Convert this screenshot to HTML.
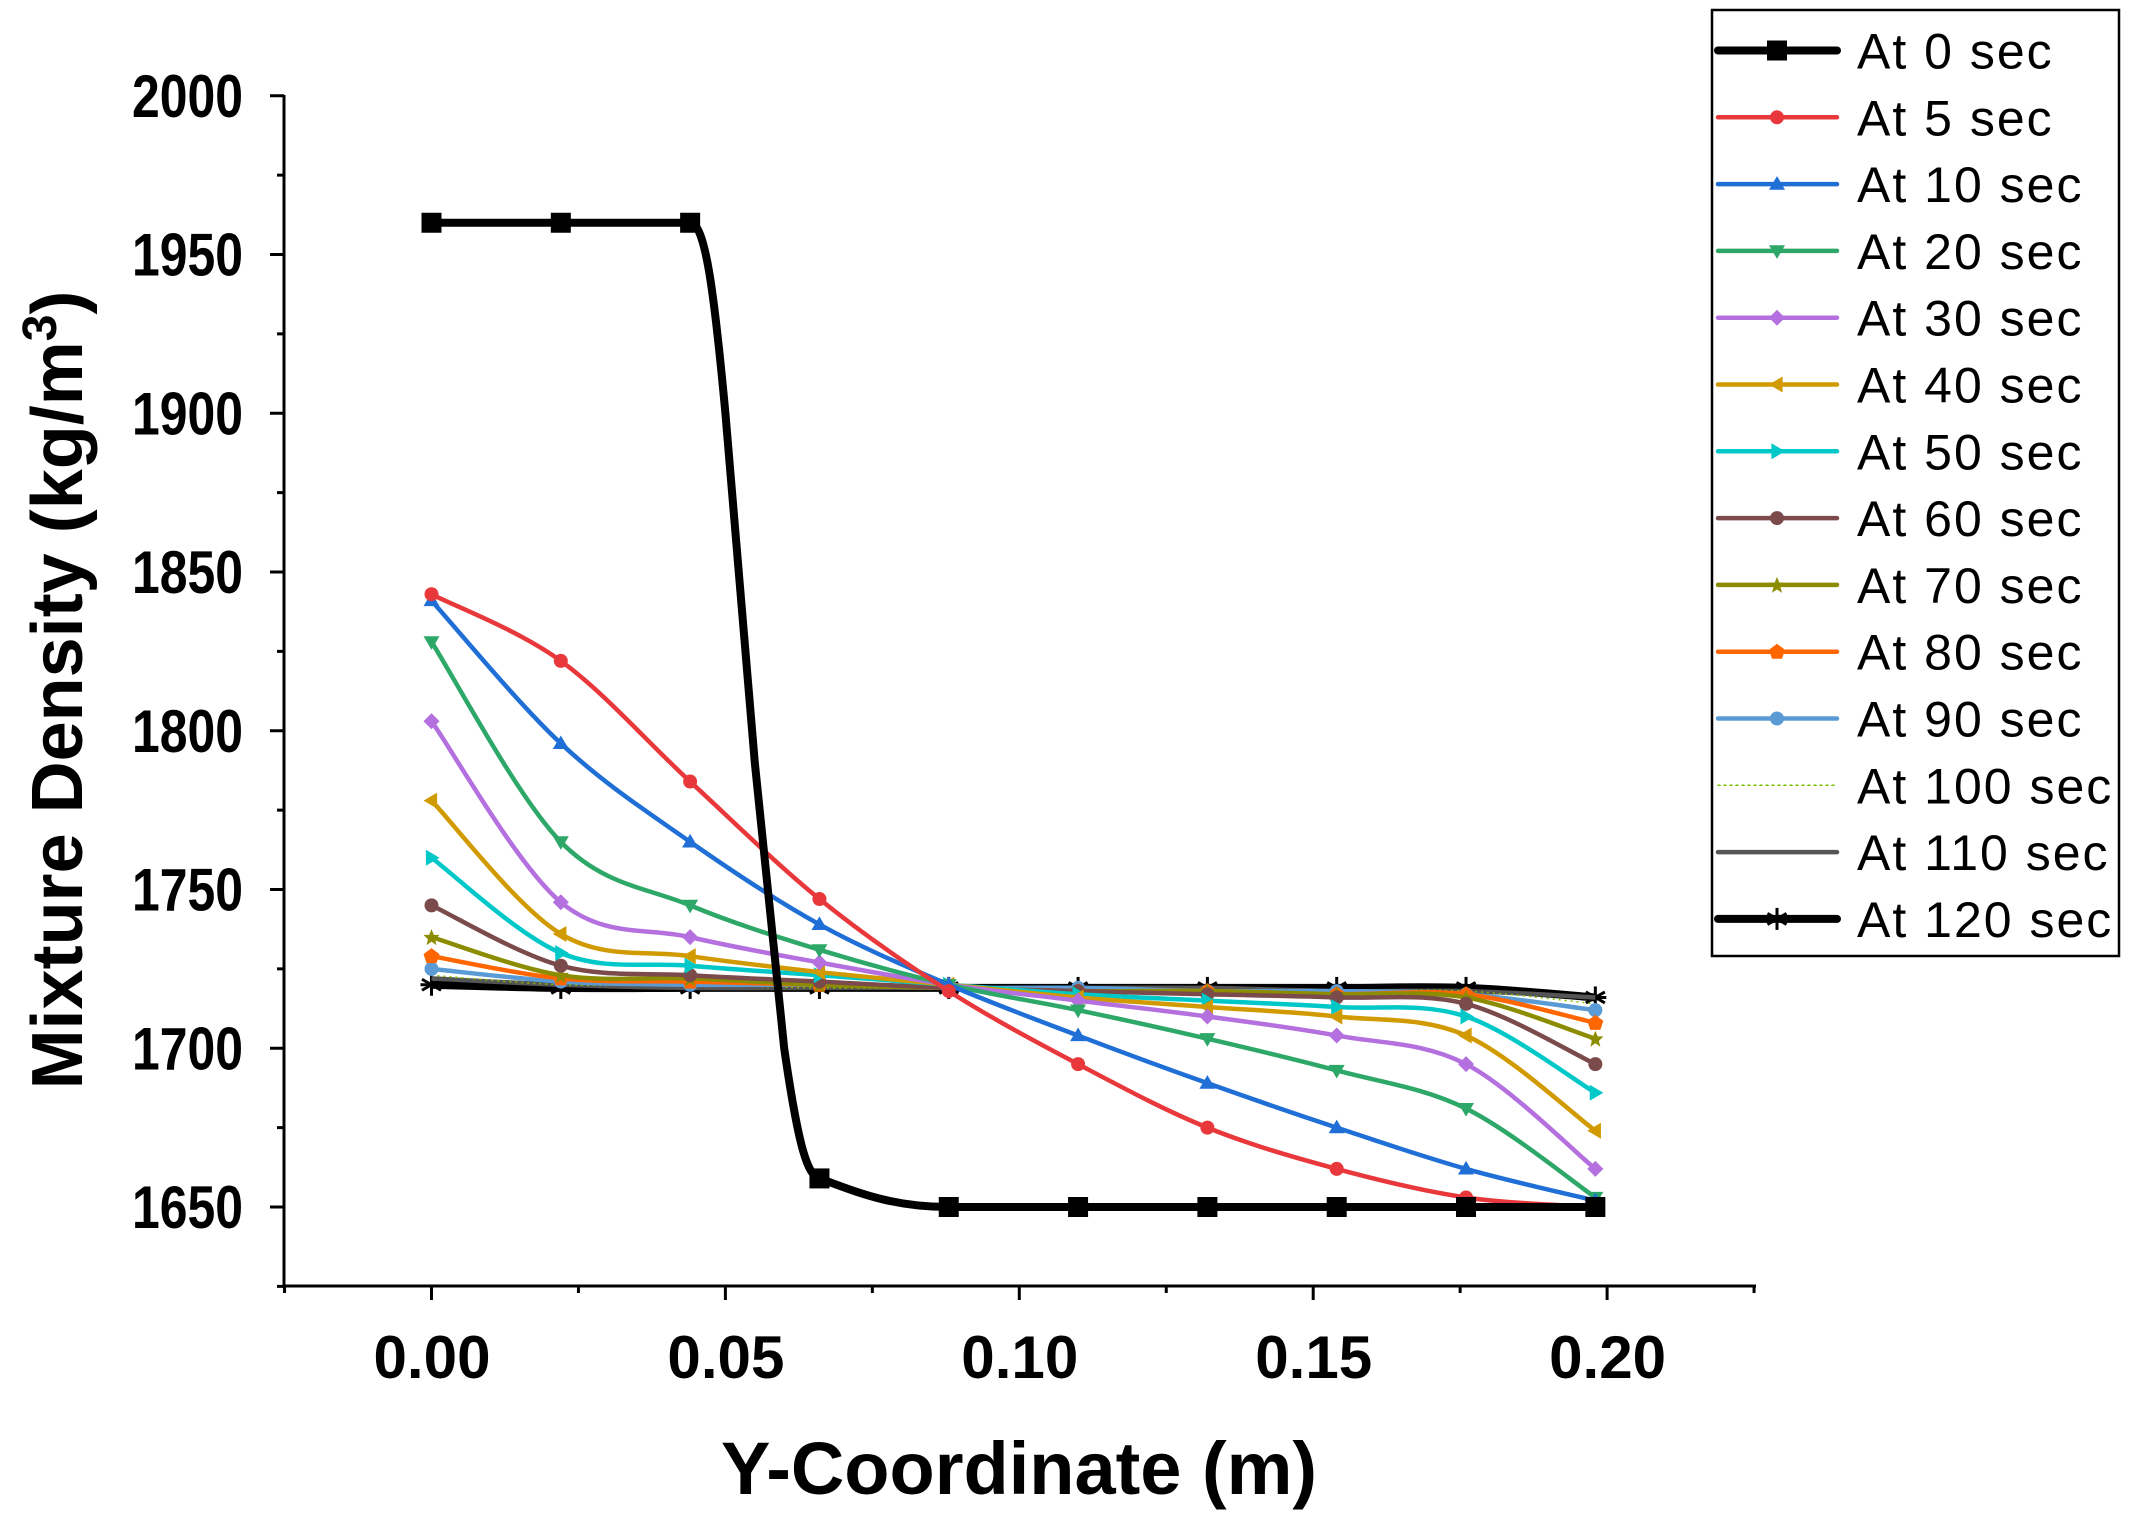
<!DOCTYPE html>
<html><head><meta charset="utf-8"><style>
html,body{margin:0;padding:0;background:#fff;}
svg{display:block;font-family:"Liberation Sans",Arial,sans-serif;}
</style></head><body>
<svg id="s" width="2141" height="1515" viewBox="0 0 2141 1515" xmlns="http://www.w3.org/2000/svg">
<rect width="2141" height="1515" fill="#fff"/>
<g id="plot"></g>
<g id="axes" stroke="#000" stroke-width="3" fill="none">
<line x1="284" y1="95" x2="284" y2="1287"/>
<line x1="283" y1="1286" x2="1756" y2="1286"/>
</g>
<g id="ticks" stroke="#000" stroke-width="3"></g>
<g id="labels" font-weight="bold" font-size="60" fill="#000"></g>
<text x="1019" y="1494" font-size="74" font-weight="bold" text-anchor="middle">Y-Coordinate (m)</text>
<text transform="translate(82,690) rotate(-90)" font-size="72" font-weight="bold" text-anchor="middle">Mixture Density (kg/m<tspan dy="-26" font-size="48">3</tspan><tspan dy="26">)</tspan></text>
<rect x="1712" y="10" width="407" height="946" fill="#fff" stroke="#000" stroke-width="2.5"/>
<g id="legend"></g>
</svg>
<script>
const NS="http://www.w3.org/2000/svg";
const X=v=>431.5+v*5878, Y=d=>1207-(d-1650)*3.175;
function el(t,a,p){const e=document.createElementNS(NS,t);for(const k in a)e.setAttribute(k,a[k]);(p||document.getElementById('plot')).appendChild(e);return e;}
const tk=document.getElementById('ticks'),lb=document.getElementById('labels');
for(let d=1625;d<=2000;d+=25){const y=Y(d);const maj=(d%50===0);el('line',{x1:284,x2:maj?270:277,y1:y,y2:y},tk);
 if(maj&&d>=1650){const t=el('text',{x:132,y:y+21,textLength:111,lengthAdjust:'spacingAndGlyphs'},lb);t.textContent=d;}}
for(let i=-1;i<=9;i++){const v=i*0.025;const x=X(v);const maj=(i%2===0);el('line',{x1:x,x2:x,y1:1286,y2:maj?1300:1293},tk);
 if(maj){const t=el('text',{x:x-58,y:1378,textLength:117,lengthAdjust:'spacingAndGlyphs'},lb);t.textContent=v.toFixed(2);}}
const xs=[0,0.022,0.044,0.066,0.088,0.11,0.132,0.154,0.176,0.198];
const W=4.5,B=8;
const S=[
["At 0 sec","#000",B,"sq",null],
["At 5 sec","#e8383b",W,"ci",[1843,1822,1784,1747,1718,1695,1675,1662,1653,1650]],
["At 10 sec","#1f6fd6",W,"tr",[1841,1796,1765,1739,1720,1704,1689,1675,1662,1652]],
["At 20 sec","#2ea869",W,"td",[1828,1765,1745,1731,1720,1712,1703,1693,1681,1653]],
["At 30 sec","#b370de",W,"di",[1803,1746,1735,1727,1720,1715,1710,1704,1695,1662]],
["At 40 sec","#d09a00",W,"tl",[1778,1736,1729,1724,1720,1716,1713,1710,1704,1674]],
["At 50 sec","#00c8c8",W,"trr",[1760,1730,1726,1723,1720,1717,1715,1713,1710,1686]],
["At 60 sec","#7b4a4a",W,"ci",[1745,1726,1723,1721,1719,1718,1717,1716,1714,1695]],
["At 70 sec","#8c8c00",W,"st",[1735,1723,1722,1720,1719,1718,1718,1717,1716,1703]],
["At 80 sec","#ff6600",W,"pe",[1729,1722,1721,1720,1719,1718,1718,1717,1717,1708]],
["At 90 sec","#5b9bd5",W,"ci",[1725,1721,1720,1720,1719,1719,1718,1718,1717,1712]],
["At 100 sec","#7cbf00",1.5,"no",[1723,1720,1720,1719,1719,1719,1718,1718,1718,1714]],
["At 110 sec","#555",W,"no",[1722,1720,1719,1719,1719,1719,1719,1718,1718,1716]],
["At 120 sec","#000",B,"as",[1720,1719,1719,1719,1719,1719,1719,1719,1719,1716]]
];
function smooth(p){let d=`M${p[0][0]},${p[0][1]}`;for(let i=0;i<p.length-1;i++){const p0=p[i-1]||p[i],p1=p[i],p2=p[i+1],p3=p[i+2]||p2;
 d+=` C${p1[0]+(p2[0]-p0[0])/6},${p1[1]+(p2[1]-p0[1])/6} ${p2[0]-(p3[0]-p1[0])/6},${p2[1]-(p3[1]-p1[1])/6} ${p2[0]},${p2[1]}`;}return d;}
function marker(t,x,y,c,g){const r=8;
 if(t==="sq")el('rect',{x:x-10,y:y-10,width:20,height:20,fill:c},g);
 else if(t==="ci")el('circle',{cx:x,cy:y,r:7,fill:c},g);
 else if(t==="tr")el('polygon',{points:`${x},${y-r} ${x-r},${y+r*0.7} ${x+r},${y+r*0.7}`,fill:c},g);
 else if(t==="td")el('polygon',{points:`${x},${y+r} ${x-r},${y-r*0.7} ${x+r},${y-r*0.7}`,fill:c},g);
 else if(t==="di")el('polygon',{points:`${x},${y-r} ${x-r},${y} ${x},${y+r} ${x+r},${y}`,fill:c},g);
 else if(t==="tl")el('polygon',{points:`${x-r},${y} ${x+r*0.7},${y-r} ${x+r*0.7},${y+r}`,fill:c},g);
 else if(t==="trr")el('polygon',{points:`${x+r},${y} ${x-r*0.7},${y-r} ${x-r*0.7},${y+r}`,fill:c},g);
 else if(t==="st")el('polygon',{points:`${x},${y-8} ${x+2.3},${y-2.3} ${x+8},${y-2.3} ${x+3.5},${y+2.3} ${x+5},${y+8} ${x},${y+4.5} ${x-5},${y+8} ${x-3.5},${y+2.3} ${x-8},${y-2.3} ${x-2.3},${y-2.3}`,fill:c},g);
 else if(t==="pe")el('polygon',{points:`${x},${y-8} ${x+8},${y-2} ${x+5},${y+7} ${x-5},${y+7} ${x-8},${y-2}`,fill:c},g);
 else if(t==="as"){for(const a of [0,60,120]){const rad=a*Math.PI/180;el('line',{x1:x-11*Math.sin(rad),y1:y-11*Math.cos(rad),x2:x+11*Math.sin(rad),y2:y+11*Math.cos(rad),stroke:c,'stroke-width':3},g);}
  el('line',{x1:x-11,y1:y,x2:x+11,y2:y,stroke:c,'stroke-width':3},g);}
}
const pg=document.getElementById('plot');
const order=[13,12,11,10,9,8,7,6,5,4,3,2,1,0];
for(const i of order){const [n,c,w,m,v]=S[i];let pts;
 if(i===0){el('path',{d:`M${X(0)},${Y(1960)} L${X(0.044)},${Y(1960)} C${X(0.0465)},${Y(1960)} ${X(0.048)},${Y(1940)} ${X(0.05)},${Y(1900)} L${X(0.055)},${Y(1790)} L${X(0.060)},${Y(1700)} C${X(0.0625)},${Y(1668)} ${X(0.064)},${Y(1660)} ${X(0.066)},${Y(1659)} C${X(0.072)},${Y(1655)} ${X(0.078)},${Y(1650)} ${X(0.088)},${Y(1650)} L${X(0.198)},${Y(1650)}`,fill:'none',stroke:c,'stroke-width':w},pg);
  pts=[1960,1960,1960,1659,1650,1650,1650,1650,1650,1650];}
 else{pts=v;el('path',{d:smooth(xs.map((x,k)=>[X(x),Y(v[k])])),fill:'none',stroke:c,'stroke-width':w,'stroke-dasharray':i===11?'2,4':'none'},pg);}
 if(m!=="no")xs.forEach((x,k)=>marker(m,X(x),Y(pts[k]),c,pg));
}
const lg=document.getElementById('legend');
S.forEach((s,i)=>{const y=50.5+i*66.8;const [n,c,w,m]=s;
 el('line',{x1:1718,x2:1837,y1:y,y2:y,stroke:c,'stroke-width':w,'stroke-dasharray':i===11?'2,4':'none','stroke-linecap':'round'},lg);
 if(m!=="no")marker(m,1777,y,c,lg);
 const t=el('text',{x:1857,y:y+18,'font-size':50,'letter-spacing':2,fill:'#000'},lg);t.textContent=n;});
</script>
</body></html>
